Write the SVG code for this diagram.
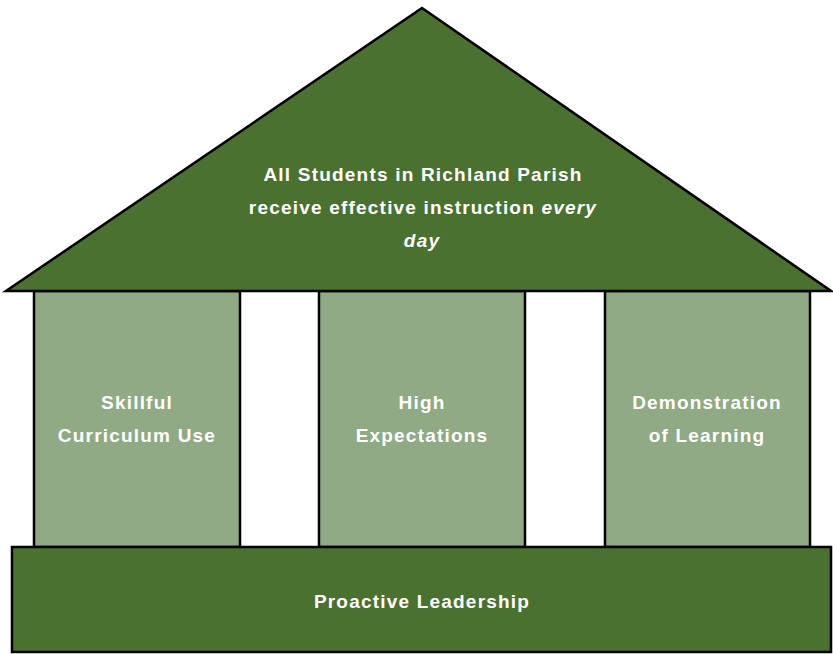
<svg xmlns="http://www.w3.org/2000/svg" width="833" height="654" viewBox="0 0 833 654">
<style>
.dark{fill:#4a7130;stroke:#000;stroke-width:2.5;stroke-linejoin:miter}
.light{fill:#8faa84;stroke:#000;stroke-width:2.5}
text{font-family:"Liberation Sans",Arial,sans-serif;font-weight:bold;font-size:19px;letter-spacing:1.2px;fill:#fff;text-anchor:middle}
</style>
<rect width="833" height="654" fill="#fff"/>
<g id="pillar1"><rect class="light" x="34" y="291" width="206" height="256"/>
<text x="137" y="409">Skillful</text><text x="137" y="442">Curriculum Use</text></g>
<g id="pillar2"><rect class="light" x="319" y="291" width="206" height="256"/>
<text x="422" y="409">High</text><text x="422" y="442">Expectations</text></g>
<g id="pillar3"><rect class="light" x="605" y="291" width="205" height="256"/>
<text x="707" y="409">Demonstration</text><text x="707" y="442">of Learning</text></g>
<g id="roof"><polygon class="dark" points="422,8 831,291 6,291"/>
<text x="423" y="181">All Students in Richland Parish</text>
<text x="423" y="214">receive effective instruction <tspan font-style="italic">every</tspan></text>
<text x="422" y="247" font-style="italic">day</text></g>
<g id="base"><rect class="dark" x="12" y="547" width="819" height="105"/>
<text x="422" y="608">Proactive Leadership</text></g>
<g id="connectors"/>
</svg>
